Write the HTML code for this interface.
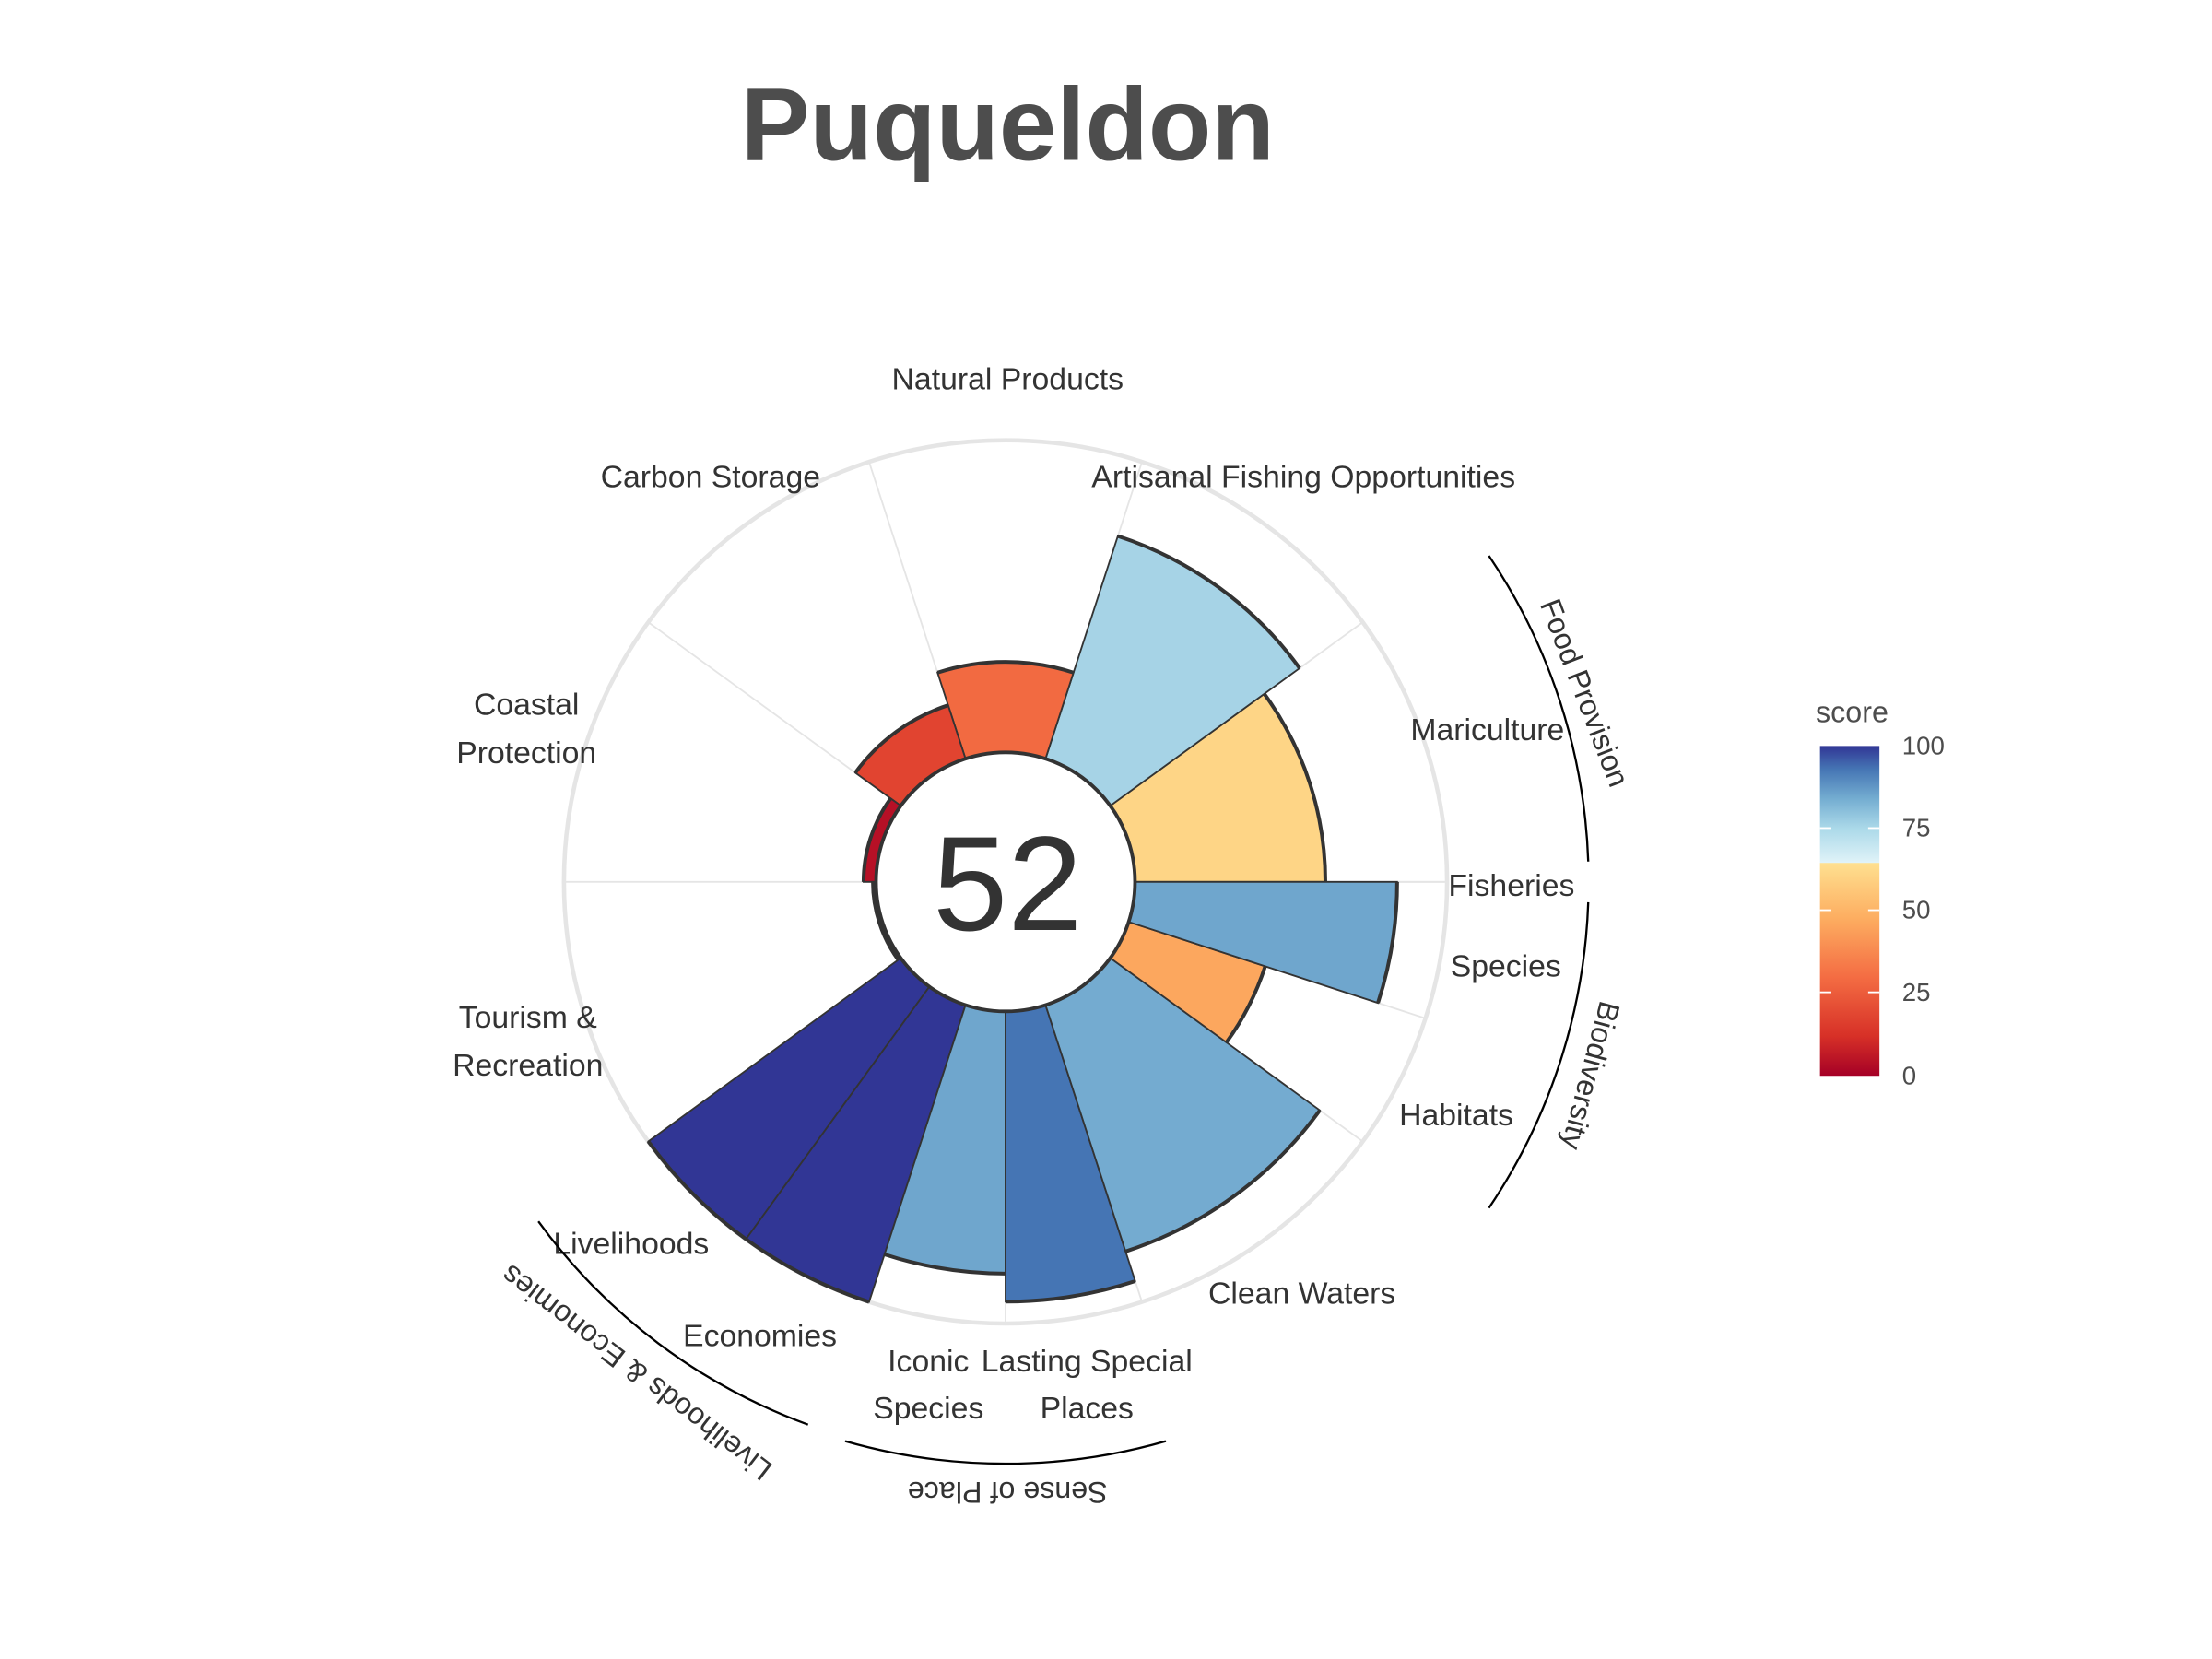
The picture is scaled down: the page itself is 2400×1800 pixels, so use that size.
<!DOCTYPE html>
<html><head><meta charset="utf-8"><style>
html,body{margin:0;padding:0;background:#fff;}
svg{display:block;font-family:"Liberation Sans",Arial,sans-serif;}
</style></head><body>
<svg id="chart" width="2400" height="1800" viewBox="0 0 1563 1172" preserveAspectRatio="none" xmlns="http://www.w3.org/2000/svg">
<defs>
<linearGradient id="cb" x1="0" y1="1" x2="0" y2="0">
<stop offset="0" stop-color="#a50026"/>
<stop offset="0.12" stop-color="#d73027"/>
<stop offset="0.3" stop-color="#f46d43"/>
<stop offset="0.48" stop-color="#fdae61"/>
<stop offset="0.645" stop-color="#fee090"/>
<stop offset="0.646" stop-color="#e0f3f8"/>
<stop offset="0.75" stop-color="#abd9e9"/>
<stop offset="0.84" stop-color="#74add1"/>
<stop offset="0.93" stop-color="#4575b4"/>
<stop offset="1" stop-color="#313695"/>
</linearGradient>
</defs>
<text x="712" y="113" font-size="73" font-weight="bold" fill="#4d4d4d" text-anchor="middle">Puqueldon</text>
<g id="grid"></g>
<g id="bars"></g>
<circle cx="710.5" cy="623" r="91.5" fill="#fff" stroke="#333" stroke-width="2.5"/>
<text x="712" y="657" font-size="95" fill="#333" text-anchor="middle">52</text>
<g font-size="22" fill="#333" text-anchor="middle">
<text x="712" y="275">Natural Products</text>
<text x="502" y="344">Carbon Storage</text>
<text x="921" y="344">Artisanal Fishing Opportunities</text>
<text x="372" y="505">Coastal</text>
<text x="372" y="539">Protection</text>
<text x="1051" y="523">Mariculture</text>
<text x="1068" y="633">Fisheries</text>
<text x="1064" y="690">Species</text>
<text x="373" y="726">Tourism &amp;</text>
<text x="373" y="760">Recreation</text>
<text x="1029" y="795">Habitats</text>
<text x="446" y="886">Livelihoods</text>
<text x="920" y="921">Clean Waters</text>
<text x="537" y="951">Economies</text>
<text x="656" y="969">Iconic</text>
<text x="656" y="1002">Species</text>
<text x="768" y="969">Lasting Special</text>
<text x="768" y="1002">Places</text>
</g>
<g id="groups" fill="none" stroke="#000" stroke-width="1.5"></g>
<g font-size="21" fill="#333" text-anchor="middle">
<text transform="translate(1113,492) rotate(69)">Food Provision</text>
<text transform="translate(1117,758) rotate(105)">Biodiversity</text>
<text transform="translate(712,1047) rotate(180)">Sense of Place</text>
<text transform="translate(454,964) rotate(217.6)">Livelihoods &amp; Economies</text>
</g>
<g>
<text x="1283" y="510" font-size="21" fill="#4d4d4d">score</text>
<rect x="1286" y="527" width="42" height="233" fill="url(#cb)"/>
<g stroke="#fff" stroke-width="1.2">
<line x1="1286" y1="585" x2="1294" y2="585"/><line x1="1320" y1="585" x2="1328" y2="585"/>
<line x1="1286" y1="643" x2="1294" y2="643"/><line x1="1320" y1="643" x2="1328" y2="643"/>
<line x1="1286" y1="701" x2="1294" y2="701"/><line x1="1320" y1="701" x2="1328" y2="701"/>
</g>
<g font-size="18" fill="#4d4d4d">
<text x="1344" y="533">100</text>
<text x="1344" y="591">75</text>
<text x="1344" y="649">50</text>
<text x="1344" y="707">25</text>
<text x="1344" y="766">0</text>
</g>
</g>
</svg>
<script>
const goals = ["Mariculture","Artisanal Fishing Opportunities","Natural Products","Carbon Storage","Coastal Protection","Tourism & Recreation","Livelihoods","Economies","Iconic Species","Lasting Special Places","Clean Waters","Habitats","Species","Fisheries"];
const scores = [61, 75, 29, 18, 4, 1, 100, 100, 84, 93, 83, 46, 84, null];
const weights = [36, 36, 36, 36, 36, 36, 18, 18, 18, 18, 36, 18, 18, 0];
const colorStops = [[0,"#a50026"],[12,"#d73027"],[30,"#f46d43"],[48,"#fdae61"],[64.5,"#fee090"],[64.6,"#e0f3f8"],[75,"#a6d3e6"],[83,"#74abd0"],[93,"#4575b4"],[100,"#313695"]];
const CX=710.5, CY=623, R0=91.5, R1=312;
const NS="http://www.w3.org/2000/svg";
function rScale(v){return R0+(R1-R0)*v/100;}
function pt(r,a){const t=a*Math.PI/180;return [CX+r*Math.cos(t),CY-r*Math.sin(t)];}
function hex(c){return [1,3,5].map(i=>parseInt(c.substr(i,2),16));}
function color(v){
  for(let i=1;i<colorStops.length;i++){
    const [v1,c1]=colorStops[i];
    if(v<=v1){const [v0,c0]=colorStops[i-1];const f=(v-v0)/(v1-v0);const a=hex(c0),b=hex(c1);
      return "rgb("+a.map((x,k)=>Math.round(x+(b[k]-x)*f)).join(",")+")";}
  }
  return colorStops[colorStops.length-1][1];
}
const grid=document.getElementById("grid"), bars=document.getElementById("bars");
const oc=document.createElementNS(NS,"circle");


oc.setAttribute("cx",CX);oc.setAttribute("cy",CY);oc.setAttribute("r",R1);
oc.setAttribute("fill","none");oc.setAttribute("stroke","#e5e5e5");oc.setAttribute("stroke-width","3");
grid.appendChild(oc);
let a=0;
goals.forEach((g,i)=>{
  const a0=a, a1=a+weights[i]; a=a1;
  const [lx,ly]=pt(R1,a0);
  const ln=document.createElementNS(NS,"line");
  
  
  ln.setAttribute("x1",CX);ln.setAttribute("y1",CY);ln.setAttribute("x2",lx);ln.setAttribute("y2",ly);
  ln.setAttribute("stroke","#e5e5e5");ln.setAttribute("stroke-width","1.2");
  grid.appendChild(ln);
  const v=scores[i];
  if(v==null||weights[i]===0) return;
  const r=rScale(v);
  const p0=pt(r,a0), p1=pt(r,a1);
  const path=document.createElementNS(NS,"path");
  
  
  path.setAttribute("d",`M${CX},${CY} L${p0[0]},${p0[1]} A${r},${r} 0 0 0 ${p1[0]},${p1[1]} Z`);
  path.setAttribute("fill",color(v));path.setAttribute("stroke","#333");path.setAttribute("stroke-width","1.2");
  bars.appendChild(path);
  const arc=document.createElementNS(NS,"path");
  
  
  arc.setAttribute("d",`M${p0[0]},${p0[1]} A${r},${r} 0 0 0 ${p1[0]},${p1[1]}`);
  arc.setAttribute("fill","none");arc.setAttribute("stroke","#333");arc.setAttribute("stroke-width","2.6");
  bars.appendChild(arc);
});
const groupArcs=[[412,2,34],[412,-34,-2],[411,254,286],[408,216,250]];
const gg=document.getElementById("groups");
groupArcs.forEach(([r,s,e])=>{
  const p0=pt(r,s),p1=pt(r,e);
  const p=document.createElementNS(NS,"path");
  
  
  p.setAttribute("d",`M${p0[0]},${p0[1]} A${r},${r} 0 0 0 ${p1[0]},${p1[1]}`);
  gg.appendChild(p);
});
</script>
</body></html>
